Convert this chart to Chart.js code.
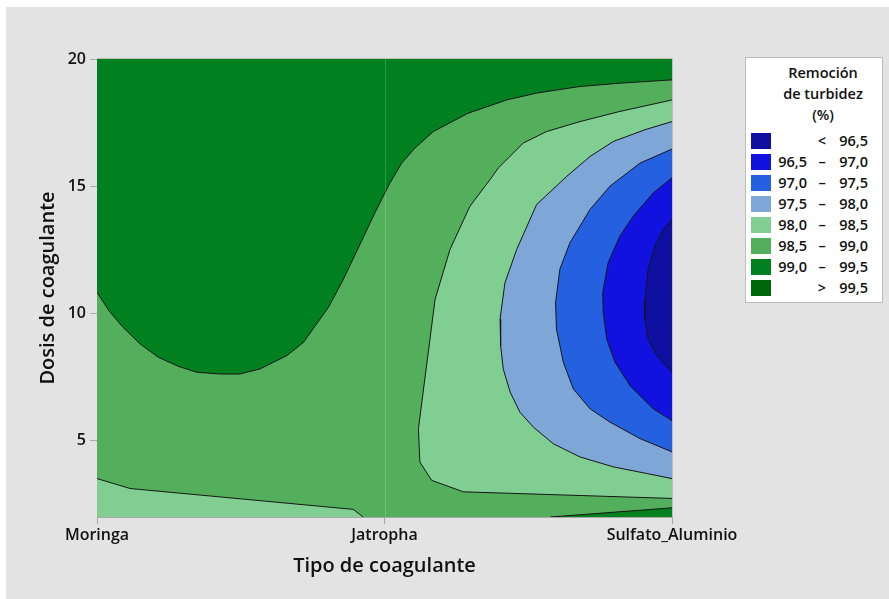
<!DOCTYPE html>
<html lang="es">
<head>
<meta charset="utf-8">
<title>Remoción de turbidez</title>
<script src="https://cdn.jsdelivr.net/npm/chart.js@4/dist/chart.umd.min.js"></script>
<style>
  html, body { margin: 0; padding: 0; background: #ffffff; }
  #panel { position: absolute; left: 6px; top: 7px; width: 883px; height: 592px; background: #e3e3e3; }
  #wrap { position: absolute; left: 0; top: 0; width: 889px; height: 599px; }
  #legend {
    position: absolute; left: 745px; top: 57px; width: 136px; height: 244px;
    background: #ffffff; border: 1px solid #bdbdbd; font-family: 'Open Sans', sans-serif; color: #111;
  }
  #legend .title { position: absolute; left: 18px; top: 4px; width: 118px; text-align: center;
    font-size: 14.5px; font-weight: 600; line-height: 21px; }
  #legend .row { position: absolute; left: 0; width: 136px; height: 16px; font-size: 14.5px; line-height: 16px; font-weight: 600; }
  #legend .sw { position: absolute; left: 5px; top: 0; width: 20px; height: 16px; }
  #legend .lo { position: absolute; left: 0; width: 61px; text-align: right; }
  #legend .sym { position: absolute; left: 70px; width: 12px; text-align: center; }
  #legend .hi { position: absolute; left: 84px; width: 38px; text-align: right; }
</style>
</head>
<body>
<div id="panel"></div>
<div id="wrap"><canvas id="chart" width="889" height="599"></canvas></div>
<div id="legend"></div>
<script>
// Axis categories and ticks
const xCategories = ['Moringa', 'Jatropha', 'Sulfato_Aluminio'];
const yTickValues = [5, 10, 15, 20];
const xRange = [0, 2];
const yRange = [2, 20];

// Contour levels (removal %) and the fill colour of each band, lowest first
const levelBreaks = [96.5, 97.0, 97.5, 98.0, 98.5, 99.0, 99.5];
const bandColors = ['#0f0fa2', '#1111e0', '#2460e0', '#7ea7d8', '#80ce92', '#53af5b', '#00801f', '#00680c'];

// Contour lines: x = coagulant position (0..2), y = dose
const contour99_0 = [
  {x: 0.000, y: 10.83}, {x: 0.042, y: 10.10}, {x: 0.091, y: 9.45}, {x: 0.150, y: 8.80},
  {x: 0.213, y: 8.28}, {x: 0.283, y: 7.92}, {x: 0.347, y: 7.69}, {x: 0.428, y: 7.62},
  {x: 0.497, y: 7.62}, {x: 0.567, y: 7.82}, {x: 0.660, y: 8.34}, {x: 0.718, y: 8.86},
  {x: 0.805, y: 10.24}, {x: 0.857, y: 11.34}, {x: 0.967, y: 13.96}, {x: 0.990, y: 14.48},
  {x: 1.019, y: 15.13}, {x: 1.060, y: 15.91}, {x: 1.106, y: 16.50}, {x: 1.170, y: 17.15},
  {x: 1.291, y: 17.87}, {x: 1.425, y: 18.39}, {x: 1.529, y: 18.66}, {x: 1.680, y: 18.92},
  {x: 1.819, y: 19.05}, {x: 2.000, y: 19.18}
];
const contour99_0Low = [{x: 1.576, y: 2.0}, {x: 2.000, y: 2.36}];
const contour98_5 = [
  {x: 2.000, y: 18.39}, {x: 1.819, y: 17.94}, {x: 1.680, y: 17.54}, {x: 1.564, y: 17.15},
  {x: 1.483, y: 16.70}, {x: 1.396, y: 15.72}, {x: 1.367, y: 15.26}, {x: 1.297, y: 14.21},
  {x: 1.228, y: 12.52}, {x: 1.176, y: 10.56}, {x: 1.118, y: 5.47}, {x: 1.123, y: 4.16},
  {x: 1.164, y: 3.44}, {x: 1.274, y: 2.99}, {x: 2.000, y: 2.73}
];
const contour98_5Low = [{x: 0.000, y: 3.51}, {x: 0.115, y: 3.12}, {x: 0.891, y: 2.30}, {x: 0.926, y: 2.0}];
const contour98_0 = [
  {x: 2.000, y: 17.54}, {x: 1.906, y: 17.22}, {x: 1.796, y: 16.76}, {x: 1.715, y: 16.17},
  {x: 1.634, y: 15.39}, {x: 1.529, y: 14.28}, {x: 1.460, y: 12.52}, {x: 1.419, y: 11.21},
  {x: 1.402, y: 9.78}, {x: 1.404, y: 8.73}, {x: 1.413, y: 7.82}, {x: 1.437, y: 6.91},
  {x: 1.471, y: 6.12}, {x: 1.518, y: 5.53}, {x: 1.587, y: 4.88}, {x: 1.680, y: 4.36},
  {x: 1.796, y: 3.97}, {x: 1.912, y: 3.71}, {x: 2.000, y: 3.51}
];
const contour97_5 = [
  {x: 2.000, y: 16.46}, {x: 1.889, y: 15.91}, {x: 1.784, y: 15.00}, {x: 1.715, y: 14.09},
  {x: 1.645, y: 12.78}, {x: 1.610, y: 11.74}, {x: 1.595, y: 10.43}, {x: 1.598, y: 9.39},
  {x: 1.622, y: 8.08}, {x: 1.657, y: 7.03}, {x: 1.715, y: 6.25}, {x: 1.784, y: 5.73},
  {x: 1.889, y: 5.08}, {x: 2.000, y: 4.56}
];
const contour97_0 = [
  {x: 2.000, y: 15.33}, {x: 1.935, y: 14.74}, {x: 1.865, y: 13.82}, {x: 1.819, y: 13.04},
  {x: 1.778, y: 12.00}, {x: 1.759, y: 10.82}, {x: 1.761, y: 10.04}, {x: 1.773, y: 8.99},
  {x: 1.802, y: 8.08}, {x: 1.854, y: 7.16}, {x: 1.935, y: 6.25}, {x: 2.000, y: 5.79}
];
const contour96_5 = [
  {x: 2.000, y: 13.69}, {x: 1.970, y: 13.30}, {x: 1.941, y: 12.65}, {x: 1.917, y: 11.74},
  {x: 1.906, y: 10.56}, {x: 1.906, y: 9.78}, {x: 1.917, y: 8.99}, {x: 1.947, y: 8.34},
  {x: 2.000, y: 7.69}
];

// Corners of the design region, used to close the filled bands
const corner = {
  bl: {x: xRange[0], y: yRange[0]}, br: {x: xRange[1], y: yRange[0]},
  tr: {x: xRange[1], y: yRange[1]}, tl: {x: xRange[0], y: yRange[1]}
};

// Filled bands, painted back to front
const bands = [
  {pts: [corner.bl, corner.br, corner.tr, corner.tl], color: bandColors[5]},
  {pts: [...contour99_0, corner.tr, corner.tl], color: bandColors[6]},
  {pts: [...contour99_0Low, corner.br], color: bandColors[6]},
  {pts: [...contour98_5Low, corner.bl], color: bandColors[4]},
  {pts: contour98_5, color: bandColors[4]},
  {pts: contour98_0, color: bandColors[3]},
  {pts: contour97_5, color: bandColors[2]},
  {pts: contour97_0, color: bandColors[1]},
  {pts: contour96_5, color: bandColors[0]}
];
const contourLines = [contour99_0, contour99_0Low, contour98_5, contour98_5Low, contour98_0, contour97_5, contour97_0, contour96_5];

const datasets = [];
bands.forEach((b, i) => {
  datasets.push({
    data: b.pts, backgroundColor: b.color, borderColor: 'rgba(0,0,0,0)', borderWidth: 0,
    pointRadius: 0, fill: 'shape', tension: 0, order: 100 - i
  });
});
contourLines.forEach(line => {
  datasets.push({
    data: line, borderColor: '#161616', borderWidth: 1, backgroundColor: 'rgba(0,0,0,0)',
    pointRadius: 0, fill: false, tension: 0, order: 0
  });
});

// Faint divider at the middle category and the plot frame
const framePlugin = {
  id: 'frame',
  afterDatasetsDraw(chart) {
    const {ctx, chartArea: a, scales} = chart;
    const xm = Math.round(scales.x.getPixelForValue(1)) + 0.5;
    ctx.save();
    ctx.strokeStyle = 'rgba(255,255,255,0.18)';
    ctx.lineWidth = 1;
    ctx.beginPath(); ctx.moveTo(xm, a.top); ctx.lineTo(xm, a.bottom); ctx.stroke();
    ctx.strokeStyle = '#bdbdbd';
    ctx.beginPath();
    ctx.moveTo(a.left, a.top - 0.5); ctx.lineTo(a.right + 0.5, a.top - 0.5);
    ctx.lineTo(a.right + 0.5, a.bottom);
    ctx.stroke();
    ctx.restore();
  }
};

const tickFont = {family: "'Open Sans', sans-serif", size: 16, weight: '600'};
const titleFont = {family: "'Open Sans', sans-serif", size: 20, weight: '600'};

new Chart(document.getElementById('chart'), {
  type: 'line',
  data: {datasets},
  plugins: [framePlugin],
  options: {
    responsive: false,
    animation: false,
    events: [],
    layout: {padding: {top: 59, right: 217, left: 0, bottom: 0}},
    plugins: {legend: {display: false}, tooltip: {enabled: false}},
    scales: {
      x: {
        type: 'linear', min: xRange[0], max: xRange[1],
        afterBuildTicks: s => { s.ticks = xCategories.map((_, i) => ({value: i})); },
        afterFit: s => { s.height = 82; },
        ticks: {callback: v => xCategories[v], font: tickFont, color: '#111', padding: 2, maxRotation: 0, autoSkip: false},
        grid: {drawOnChartArea: false, tickLength: 7, tickColor: '#a8a8a8'},
        border: {color: '#a8a8a8'},
        title: {display: true, text: 'Tipo de coagulante', font: titleFont, color: '#111', padding: {top: 0, bottom: 21}}
      },
      y: {
        type: 'linear', min: yRange[0], max: yRange[1],
        afterBuildTicks: s => { s.ticks = yTickValues.map(v => ({value: v})); },
        afterFit: s => { s.width = 97; },
        ticks: {font: tickFont, color: '#111', padding: 4},
        grid: {drawOnChartArea: false, tickLength: 7, tickColor: '#a8a8a8'},
        border: {color: '#a8a8a8'},
        title: {display: true, text: 'Dosis de coagulante', font: titleFont, color: '#111', padding: {top: 36, bottom: 0}}
      }
    }
  }
});

// Legend of contour bands, highest row = lowest removal
const fmt = v => v.toFixed(1).replace('.', ',');
const legend = document.getElementById('legend');
legend.innerHTML = '<div class="title">Remoción<br>de turbidez<br>(%)</div>';
bandColors.forEach((c, i) => {
  let lo = '', sym = '', hi = '';
  if (i === 0) { sym = '<'; hi = fmt(levelBreaks[0]); }
  else if (i === bandColors.length - 1) { sym = '>'; hi = fmt(levelBreaks[levelBreaks.length - 1]); }
  else { lo = fmt(levelBreaks[i - 1]); sym = '–'; hi = fmt(levelBreaks[i]); }
  const row = document.createElement('div');
  row.className = 'row';
  row.style.top = (75 + i * 21) + 'px';
  row.innerHTML = `<div class="sw" style="background:${c}"></div><span class="lo">${lo}</span><span class="sym">${sym}</span><span class="hi">${hi}</span>`;
  legend.appendChild(row);
});
</script>
</body>
</html>
